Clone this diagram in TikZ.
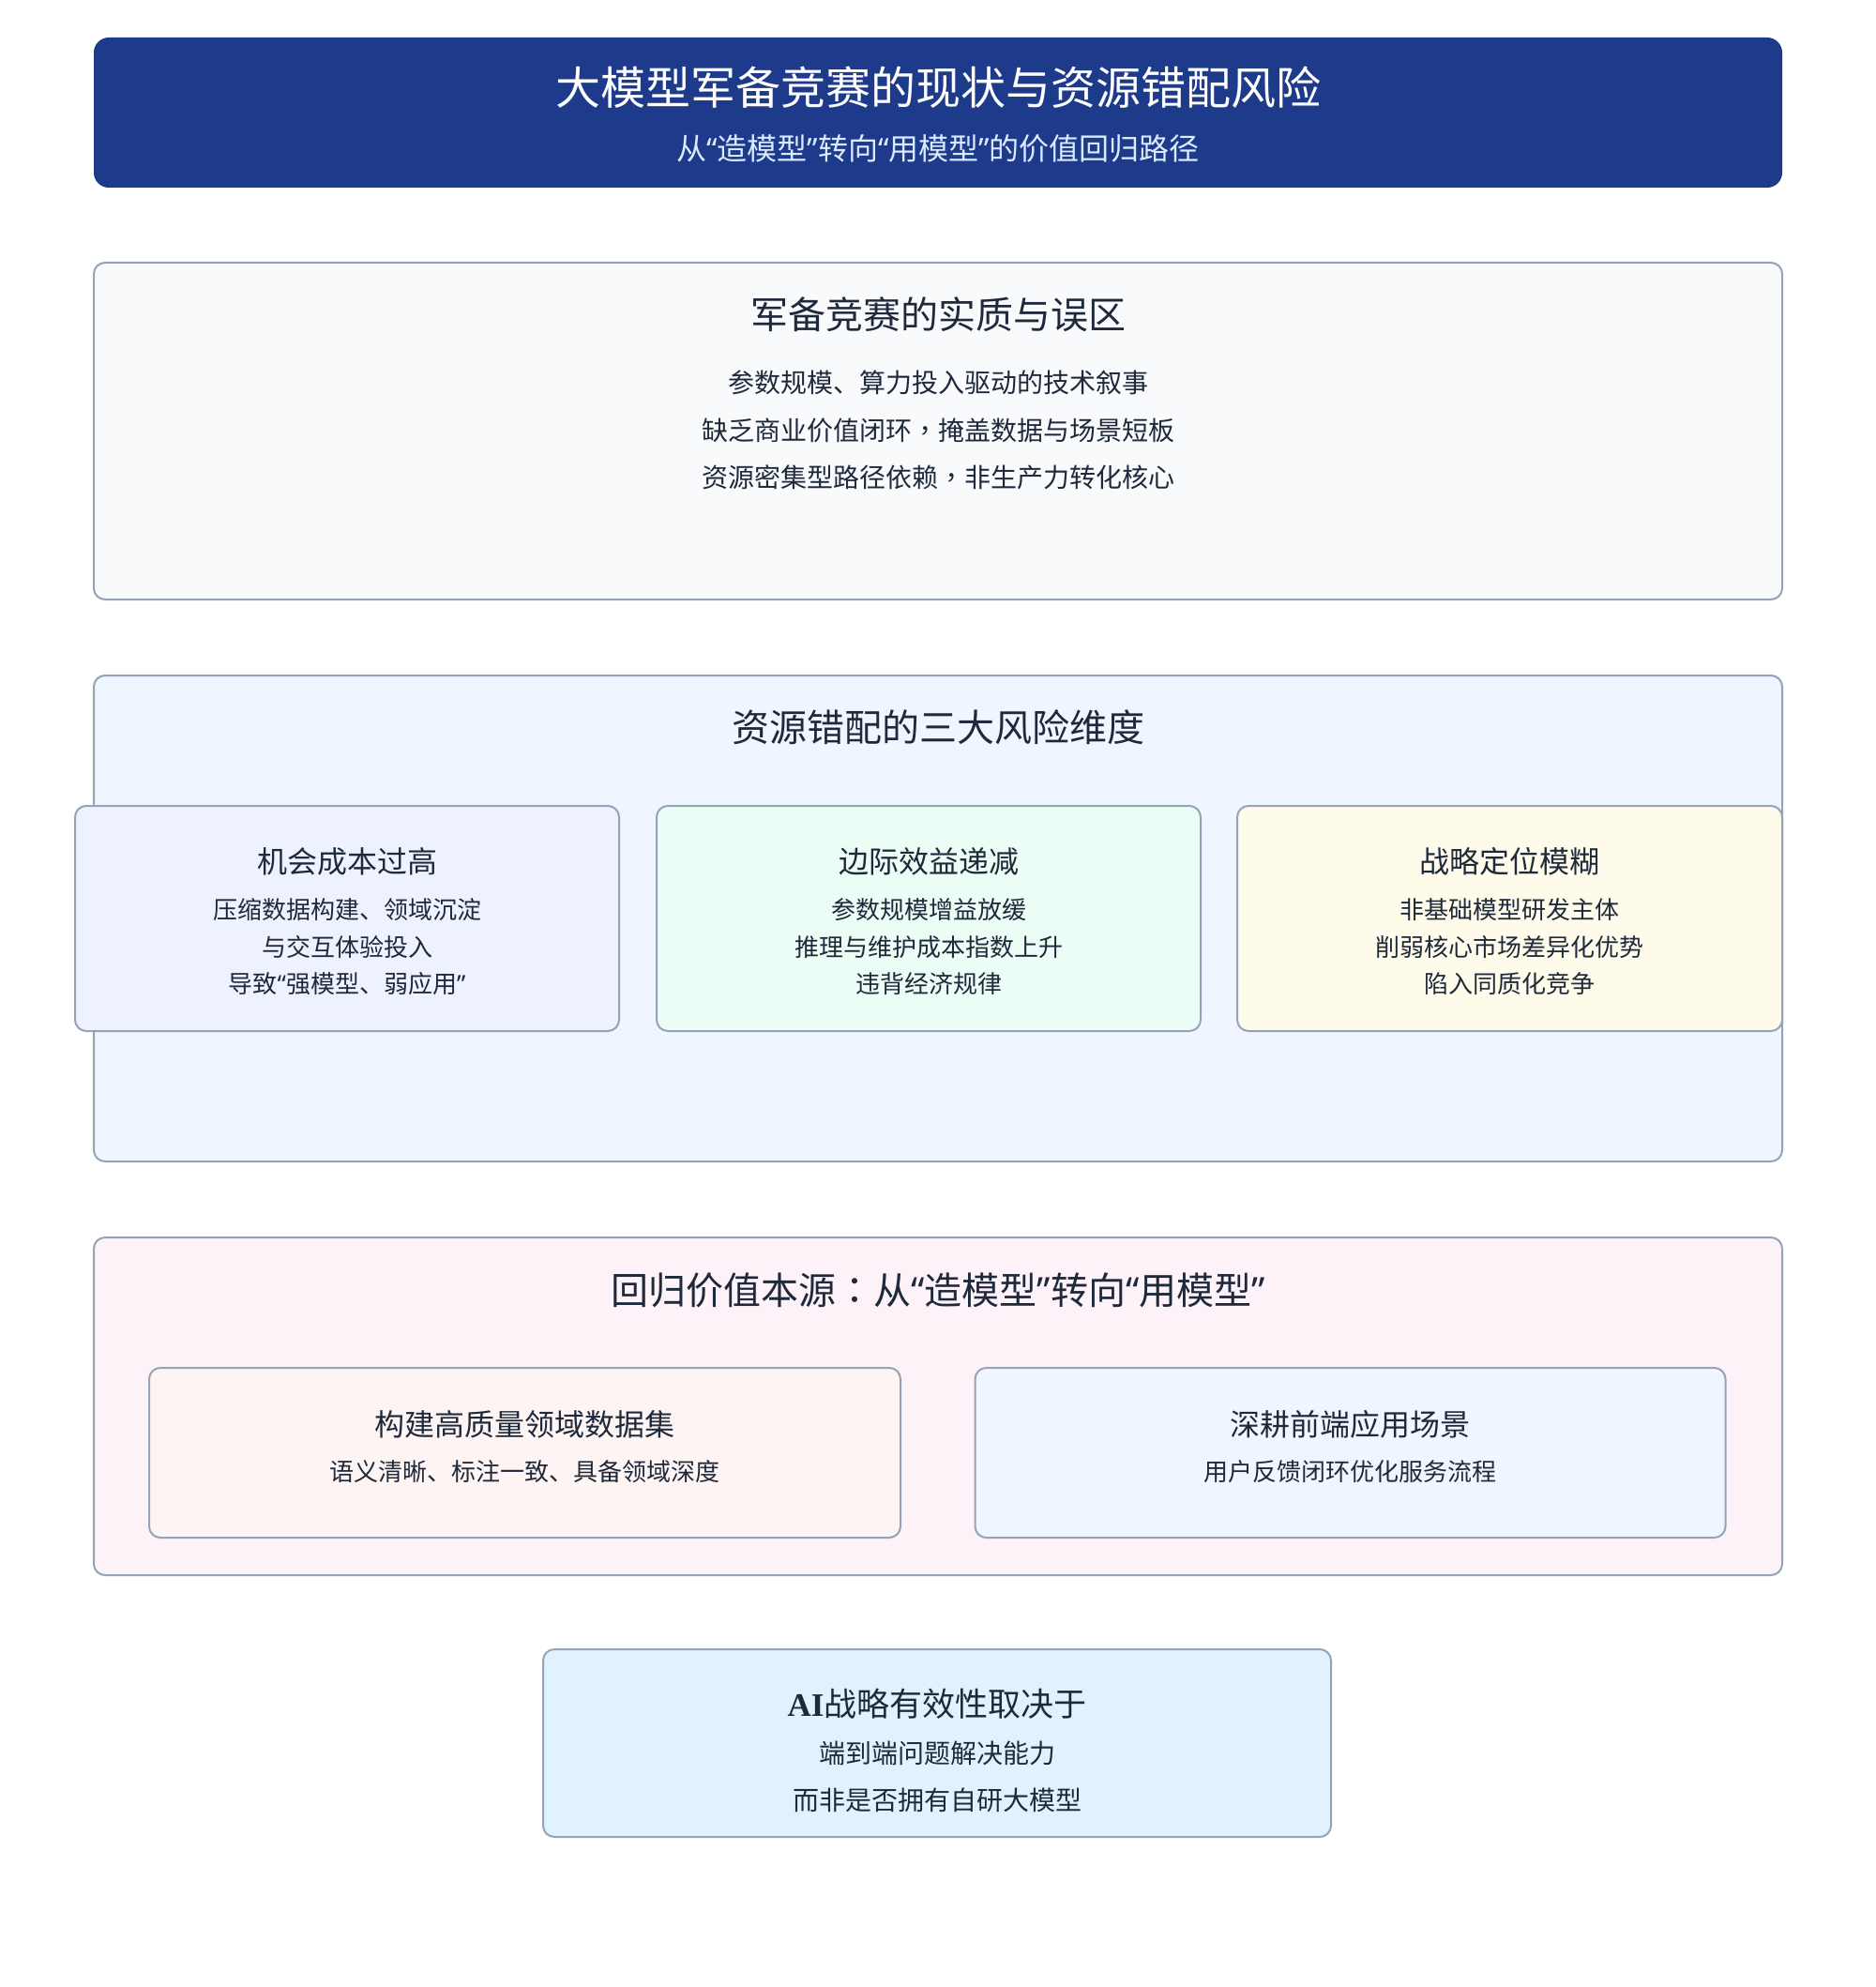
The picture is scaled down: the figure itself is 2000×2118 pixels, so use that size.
\documentclass[tikz,border=0pt]{standalone}
\usepackage{fontspec}
\setmainfont{Noto Sans CJK SC}
\newfontfamily\aifont{Liberation Serif}
\newfontfamily\qfont{Noto Sans}
\newfontfamily\tcfont{Noto Sans CJK TC}
\newcommand\oq{{\qfont “}}
\newcommand\cq{{\qfont ”}}
\newcommand\fcomma{{\tcfont ，}}
\newcommand\fcolon{{\tcfont ：}}
\definecolor{hdr}{HTML}{1E3A8A}
\definecolor{subt}{HTML}{DBEAFE}
\definecolor{cborder}{HTML}{94A3B8}
\definecolor{ink}{HTML}{1E293B}
\definecolor{fsecA}{HTML}{F8FAFC}
\definecolor{fsecB}{HTML}{EFF6FF}
\definecolor{fcardA}{HTML}{EEF2FF}
\definecolor{fcardB}{HTML}{ECFDF5}
\definecolor{fcardC}{HTML}{FEFBEA}
\definecolor{fsecC}{HTML}{FDF2F8}
\definecolor{fsubA}{HTML}{FEF4F4}
\definecolor{fsubB}{HTML}{EFF6FF}
\definecolor{fbot}{HTML}{E0F2FE}
\tikzset{
  panel/.style={draw=cborder, line width=1pt, rounded corners=6pt, inner sep=0pt},
  txt/.style={text=ink, inner sep=0pt, anchor=center},
  htitle/.style={text=white, inner sep=0pt, font=\fontsize{24}{28}\selectfont},
  hsub/.style={text=subt, inner sep=0pt, font=\fontsize{16}{19}\selectfont},
  sectitle/.style={txt, font=\fontsize{20}{24}\selectfont},
  secline/.style={txt, font=\fontsize{14}{17}\selectfont},
  cardtitle/.style={txt, font=\fontsize{16}{19}\selectfont},
  cardline/.style={txt, font=\fontsize{13}{16}\selectfont},
  bottitle/.style={txt, font=\fontsize{17.5}{21}\selectfont},
}
\begin{document}
\begin{tikzpicture}[x=0.5pt,y=-0.5pt]
\useasboundingbox[fill=white] (0,0) rectangle (2000,2118);

% header
\node[fill=hdr, rounded corners=8pt, inner sep=0pt, minimum width=900pt, minimum height=80pt] (header) at (1000,120) {};
\node[htitle] (htitle) at (1000,93) {大模型军备竞赛的现状与资源错配风险};
\node[hsub] (hsub) at (1000,158) {从\oq 造模型\cq 转向\oq 用模型\cq 的价值回归路径};

% section 1
\node[panel, fill=fsecA, minimum width=900pt, minimum height=179.5pt] (sec1) at (1000,459.5) {};
\node[sectitle] (s1t) at (1000,335) {军备竞赛的实质与误区};
\node[secline] (s1a) at (1000,408) {参数规模、算力投入驱动的技术叙事};
\node[secline] (s1b) at (1000,459) {缺乏商业价值闭环\fcomma 掩盖数据与场景短板};
\node[secline] (s1c) at (1000,509) {资源密集型路径依赖\fcomma 非生产力转化核心};

% section 2
\node[panel, fill=fsecB, minimum width=900pt, minimum height=259pt] (sec2) at (1000,979) {};
\node[sectitle] (s2t) at (1000,775) {资源错配的三大风险维度};

\node[panel, fill=fcardA, minimum width=290pt, minimum height=120pt] (c1) at (370,979) {};
\node[cardtitle] (c1t) at (370,918) {机会成本过高};
\node[cardline] (c1a) at (370,970) {压缩数据构建、领域沉淀};
\node[cardline] (c1b) at (370,1010) {与交互体验投入};
\node[cardline] (c1c) at (370,1049) {导致\oq 强模型、弱应用\cq};

\node[panel, fill=fcardB, minimum width=290pt, minimum height=120pt] (c2) at (990,979) {};
\node[cardtitle] (c2t) at (990,918) {边际效益递减};
\node[cardline] (c2a) at (990,970) {参数规模增益放缓};
\node[cardline] (c2b) at (990,1010) {推理与维护成本指数上升};
\node[cardline] (c2c) at (990,1049) {违背经济规律};

\node[panel, fill=fcardC, minimum width=290.5pt, minimum height=120pt] (c3) at (1609.5,979) {};
\node[cardtitle] (c3t) at (1609.5,918) {战略定位模糊};
\node[cardline] (c3a) at (1609.5,970) {非基础模型研发主体};
\node[cardline] (c3b) at (1609.5,1010) {削弱核心市场差异化优势};
\node[cardline] (c3c) at (1609.5,1049) {陷入同质化竞争};

% section 3
\node[panel, fill=fsecC, minimum width=900pt, minimum height=180pt] (sec3) at (1000,1499) {};
\node[sectitle] (s3t) at (1000,1375) {回归价值本源\fcolon 从\oq 造模型\cq 转向\oq 用模型\cq};

\node[panel, fill=fsubA, minimum width=400.5pt, minimum height=90.5pt] (d1) at (559.5,1548.5) {};
\node[cardtitle] (d1t) at (559.5,1518) {构建高质量领域数据集};
\node[cardline] (d1a) at (559.5,1569) {语义清晰、标注一致、具备领域深度};

\node[panel, fill=fsubB, minimum width=400pt, minimum height=90.5pt] (d2) at (1439.5,1548.5) {};
\node[cardtitle] (d2t) at (1439.5,1518) {深耕前端应用场景};
\node[cardline] (d2a) at (1439.5,1569) {用户反馈闭环优化服务流程};

% bottom
\node[panel, fill=fbot, minimum width=420pt, minimum height=100pt] (bot) at (999,1858) {};
\node[bottitle] (bt) at (999,1816) {{\aifont\bfseries AI}战略有效性取决于};
\node[secline] (ba) at (999,1869) {端到端问题解决能力};
\node[secline] (bb) at (999,1919) {而非是否拥有自研大模型};
\end{tikzpicture}
\end{document}
